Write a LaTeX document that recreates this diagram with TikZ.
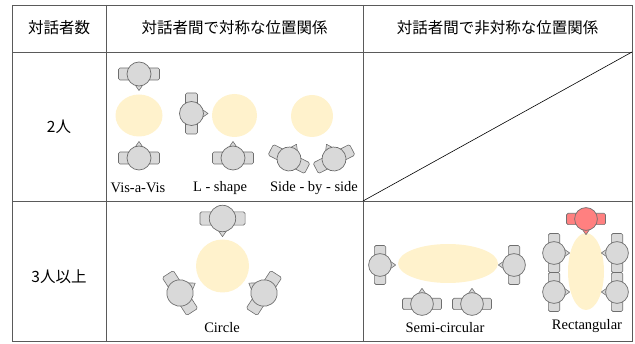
\documentclass[tikz,border=0pt]{standalone}
\usepackage{fontspec}
\setmainfont{Liberation Serif}
\newfontfamily\jp{Noto Sans CJK JP}

\definecolor{tablefill}{HTML}{FFF2CC}
\definecolor{seatF}{HTML}{D9D9D9}
\definecolor{seatL}{HTML}{6E6E6E}
\definecolor{hostfill}{HTML}{FF8080}
\definecolor{hostline}{HTML}{707070}
\definecolor{rulecol}{HTML}{5A5A5A}

\tikzset{
  gridline/.style={draw=rulecol, line width=0.8pt},
  desk/.style={fill=tablefill, draw=none},
  head/.style={font=\jp\fontsize{15.5}{18}\selectfont, inner sep=0pt},
  caption/.style={font=\fontsize{14.5}{17}\selectfont, inner sep=0pt},
  % a seated person seen from above, facing down before rotation
  pics/person/.style={code={
    \draw[seatL, fill=seatF, line width=0.6pt, rounded corners=1.5pt] (-20.5,-6) rectangle (-8,6);
    \draw[seatL, fill=seatF, line width=0.6pt, rounded corners=1.5pt] (8,-6) rectangle (20.5,6);
    \draw[seatL, fill=seatF, line width=0.6pt, line join=round] (-3.8,11) -- (0,16.5) -- (3.8,11) -- cycle;
    \draw[seatL, fill=seatF, line width=0.7pt] (0,0) circle[radius=12];
  }}
}

\begin{document}
\begin{tikzpicture}[x=1pt, y=-1pt]
\useasboundingbox (0,0) rectangle (635,344);

% table grid
\draw[gridline] (12,5) rectangle (632,341);
\draw[gridline] (12,52) -- (632,52);
\draw[gridline] (12,201) -- (632,201);
\draw[gridline] (106,5) -- (106,341);
\draw[gridline] (363,5) -- (363,341);
\draw[black, line width=0.6pt] (363,201) -- (632,52);

% headings
\node[head] (h1) at (59,28) {対話者数};
\node[head] (h2) at (234.5,28) {対話者間で対称な位置関係};
\node[head] (h3) at (497.5,28) {対話者間で非対称な位置関係};
\node[head] (r1) at (59,127) {2人};
\node[head] (r2) at (59,277) {3人以上};

% Vis-a-Vis
\fill[desk] (139,115.5) ellipse[x radius=23.5, y radius=21];
\pic at (139,74) {person};
\pic[rotate=180] at (139,158) {person};
\node[caption] (c1) at (138,188) {Vis-a-Vis};

% L - shape
\fill[desk] (234.5,115.5) ellipse[x radius=22.5, y radius=21.5];
\pic[rotate=90] at (191.5,113.5) {person};
\pic[rotate=180] at (233,158) {person};
\node[caption] (c2) at (220,188) {L - shape};

% Side - by - side
\fill[desk] (312,116) circle[radius=21];
\pic[rotate=153] at (289,159) {person};
\pic[rotate=-153] at (334,159) {person};
\node[caption] (c3) at (314,188) {Side - by - side};

% Circle
\fill[desk] (222.5,266) circle[radius=26.5];
\pic[scale=1.1] at (222.5,218.5) {person};
\pic[scale=1.1, rotate=123] at (180,293) {person};
\pic[scale=1.1, rotate=-123] at (264,293) {person};
\node[caption] (c4) at (222,328) {Circle};

% Semi-circular
\fill[desk] (448,263.5) ellipse[x radius=50, y radius=19.5];
\pic[scale=0.95, rotate=90] at (380,265) {person};
\pic[scale=0.95, rotate=-90] at (514,265) {person};
\pic[scale=0.95, rotate=180] at (422,304) {person};
\pic[scale=0.95, rotate=180] at (472,304) {person};
\node[caption] (c5) at (445,328) {Semi-circular};

% Rectangular
\fill[desk] (586,271.5) ellipse[x radius=18, y radius=38.5];
\begin{scope}
  \colorlet{seatF}{hostfill}
  \colorlet{seatL}{hostline}
  \pic[scale=0.95] at (586,219) {person};
\end{scope}
\pic[scale=0.95, rotate=90] at (554,253) {person};
\pic[scale=0.95, rotate=90] at (554,292) {person};
\pic[scale=0.95, rotate=-90] at (617,253) {person};
\pic[scale=0.95, rotate=-90] at (617,292) {person};
\node[caption] (c6) at (587,326) {Rectangular};
\end{tikzpicture}
\end{document}
